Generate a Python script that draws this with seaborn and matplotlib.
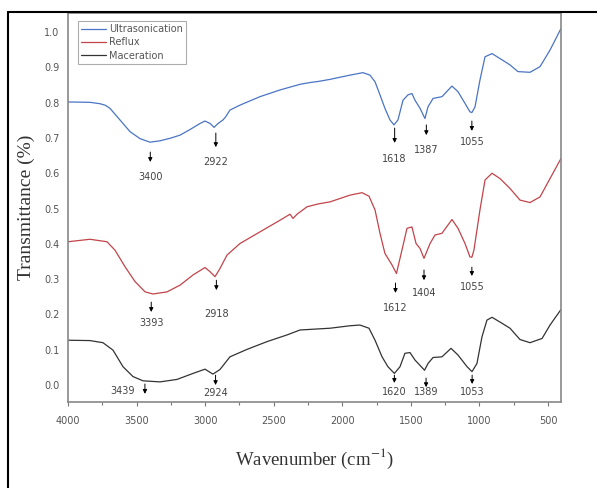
import matplotlib
matplotlib.use("Agg")
import matplotlib.pyplot as plt
from matplotlib.lines import Line2D
from matplotlib.ticker import MultipleLocator, FormatStrFormatter
import pandas as pd
import seaborn as sns

# -------------------------------
# FTIR spectra
# -------------------------------
methods = ["Ultrasonication", "Reflux", "Maceration"]
colors = {"Ultrasonication": "#4a74c4", "Reflux": "#c2444a", "Maceration": "#333333"}

wn_ultra = [4000, 3840, 3767, 3730, 3694, 3621, 3548, 3475, 3402, 3329, 3256, 3183, 3110,
            3037, 3001, 2964, 2935, 2906, 2870, 2850, 2819, 2746, 2600, 2454, 2308,
            2235, 2177, 2089, 1944, 1849, 1798, 1761, 1725, 1689, 1652, 1623, 1594,
            1557, 1521, 1492, 1470, 1433, 1397, 1375, 1338, 1273, 1200, 1156, 1105,
            1069, 1055, 1032, 996, 959, 908, 850, 777, 719, 631, 558, 485, 405]
t_ultra = [0.802, 0.801, 0.797, 0.793, 0.784, 0.751, 0.718, 0.698, 0.688, 0.692, 0.699, 0.708, 0.724,
           0.741, 0.748, 0.741, 0.730, 0.741, 0.751, 0.760, 0.779, 0.793, 0.817, 0.836, 0.852,
           0.857, 0.860, 0.866, 0.878, 0.885, 0.878, 0.859, 0.822, 0.784, 0.751, 0.737, 0.751,
           0.807, 0.822, 0.826, 0.807, 0.784, 0.755, 0.788, 0.812, 0.817, 0.847, 0.831, 0.798,
           0.774, 0.772, 0.788, 0.864, 0.930, 0.939, 0.925, 0.907, 0.888, 0.886, 0.902, 0.949, 1.010]

wn_reflux = [4000, 3840, 3716, 3657, 3584, 3511, 3438, 3380, 3278, 3183, 3088, 3001,
             2964, 2928, 2892, 2841, 2746, 2600, 2454, 2381, 2359, 2330, 2257, 2177,
             2089, 1944, 1856, 1805, 1761, 1725, 1689, 1637, 1605, 1565, 1528, 1492,
             1462, 1433, 1404, 1360, 1324, 1273, 1200, 1156, 1105, 1069, 1055, 1040,
             996, 959, 908, 850, 777, 704, 631, 558, 485, 405]
t_reflux = [0.406, 0.413, 0.406, 0.382, 0.335, 0.293, 0.264, 0.258, 0.264, 0.283, 0.312, 0.333,
            0.321, 0.307, 0.330, 0.368, 0.401, 0.434, 0.467, 0.484, 0.472, 0.484, 0.505, 0.513,
            0.519, 0.538, 0.545, 0.535, 0.496, 0.430, 0.373, 0.340, 0.316, 0.382, 0.444, 0.448,
            0.401, 0.387, 0.359, 0.401, 0.425, 0.430, 0.469, 0.444, 0.401, 0.363, 0.362, 0.382,
            0.496, 0.581, 0.600, 0.585, 0.557, 0.524, 0.517, 0.533, 0.585, 0.642]

wn_mac = [4000, 3840, 3745, 3672, 3599, 3526, 3453, 3329, 3205, 3088, 3001, 2943,
          2892, 2819, 2695, 2549, 2403, 2308, 2177, 2089, 1944, 1871, 1805, 1761,
          1710, 1667, 1620, 1579, 1543, 1506, 1470, 1400, 1375, 1338, 1273, 1207,
          1156, 1090, 1054, 1018, 981, 945, 908, 835, 777, 704, 631, 543, 485, 405]
t_mac = [0.127, 0.126, 0.120, 0.099, 0.052, 0.024, 0.012, 0.009, 0.016, 0.033, 0.045, 0.031,
         0.044, 0.080, 0.101, 0.123, 0.142, 0.156, 0.159, 0.161, 0.168, 0.170, 0.161, 0.127,
         0.080, 0.052, 0.033, 0.052, 0.090, 0.092, 0.071, 0.042, 0.061, 0.078, 0.080, 0.104,
         0.085, 0.052, 0.038, 0.061, 0.137, 0.184, 0.192, 0.175, 0.161, 0.129, 0.120, 0.132,
         0.170, 0.214]

# peak labels: wavenumber, arrow tail y, arrow tip y, label y, label x
peak_wn = [3400, 2922, 1618, 1387, 1055,
           3393, 2918, 1612, 1404, 1055,
           3439, 2924, 1620, 1389, 1053]
peak_tail = [0.660, 0.714, 0.728, 0.737, 0.748,
             0.235, 0.297, 0.289, 0.326, 0.334,
             0.003, 0.028, 0.028, 0.020, 0.028]
peak_tip = [0.632, 0.674, 0.686, 0.708, 0.720,
            0.207, 0.269, 0.261, 0.297, 0.309,
            -0.025, 0.000, 0.006, -0.006, 0.003]
peak_text_y = [0.589, 0.632, 0.640, 0.666, 0.688,
               0.176, 0.201, 0.218, 0.261, 0.278,
               -0.017, -0.023, -0.020, -0.020, -0.020]
peak_text_x = [3400, 2922, 1618, 1387, 1055,
               3393, 2918, 1612, 1404, 1055,
               3599, 2924, 1620, 1389, 1053]

# -------------------------------
# Long-form table
# -------------------------------
df = pd.concat([
    pd.DataFrame({"wavenumber": wn_ultra, "transmittance": t_ultra, "method": "Ultrasonication"}),
    pd.DataFrame({"wavenumber": wn_reflux, "transmittance": t_reflux, "method": "Reflux"}),
    pd.DataFrame({"wavenumber": wn_mac, "transmittance": t_mac, "method": "Maceration"}),
], ignore_index=True)

# -------------------------------
# Plot
# -------------------------------
sns.set_style("white")
plt.rcParams["font.family"] = ["DejaVu Sans"]
plt.rcParams["mathtext.fontset"] = "stix"

fig = plt.figure(figsize=(5.97, 4.88), dpi=100)
ax = fig.add_axes([68 / 597, 86 / 488, 493 / 597, 389 / 488])

sns.lineplot(data=df, x="wavenumber", y="transmittance", hue="method",
             hue_order=methods, palette=colors, sort=False, estimator=None,
             lw=0.9, ax=ax)

for wn, tail, tip, ty, tx in zip(peak_wn, peak_tail, peak_tip, peak_text_y, peak_text_x):
    ax.annotate("", xy=(wn, tip), xytext=(wn, tail),
                arrowprops=dict(arrowstyle="-|>", color="black", lw=0.7,
                                mutation_scale=6, shrinkA=0, shrinkB=0))
    ax.text(tx, ty, str(wn), ha="center", va="center", fontsize=7, color="#444444")

ax.set_xlim(4000, 405)
ax.set_ylim(-0.048, 1.054)
ax.xaxis.set_major_locator(MultipleLocator(500))
ax.xaxis.set_minor_locator(MultipleLocator(250))
ax.yaxis.set_major_locator(MultipleLocator(0.1))
ax.yaxis.set_major_formatter(FormatStrFormatter("%.1f"))
ax.tick_params(axis="x", which="major", direction="out", length=3, width=0.8,
               color="#777777", pad=7, labelsize=7, labelcolor="#555555", bottom=True)
ax.tick_params(axis="x", which="minor", direction="out", length=2, width=0.8,
               color="#777777", bottom=True)
ax.tick_params(axis="y", length=0, pad=6, labelsize=7, labelcolor="#555555")

for side in ["left", "right", "top", "bottom"]:
    ax.spines[side].set_color("#888888")
    ax.spines[side].set_linewidth(1.2)

ax.set_xlabel("Wavenumber (cm$^{-1}$)", family="Liberation Serif", fontsize=13.5,
              color="#333333", labelpad=15)
ax.set_ylabel("Transmittance (%)", family="Liberation Serif", fontsize=14,
              color="#333333", labelpad=7)

leg = ax.legend(loc="upper left", bbox_to_anchor=(10 / 493, 1 - 8 / 389),
                borderaxespad=0, fontsize=7, frameon=True, fancybox=False,
                edgecolor="#999999", handlelength=2.6, labelspacing=0.35,
                borderpad=0.3, handletextpad=0.3, labelcolor="#555555")
leg.get_frame().set_linewidth(0.8)

# outer frame of the figure
fig.add_artist(Line2D([8 / 597, 1], [1 - 12 / 488, 1 - 12 / 488],
                      transform=fig.transFigure, color="black", lw=1.5))
fig.add_artist(Line2D([8 / 597, 8 / 597], [0, 1 - 12 / 488],
                      transform=fig.transFigure, color="black", lw=1.5))

fig.savefig("out.png", dpi=100)
